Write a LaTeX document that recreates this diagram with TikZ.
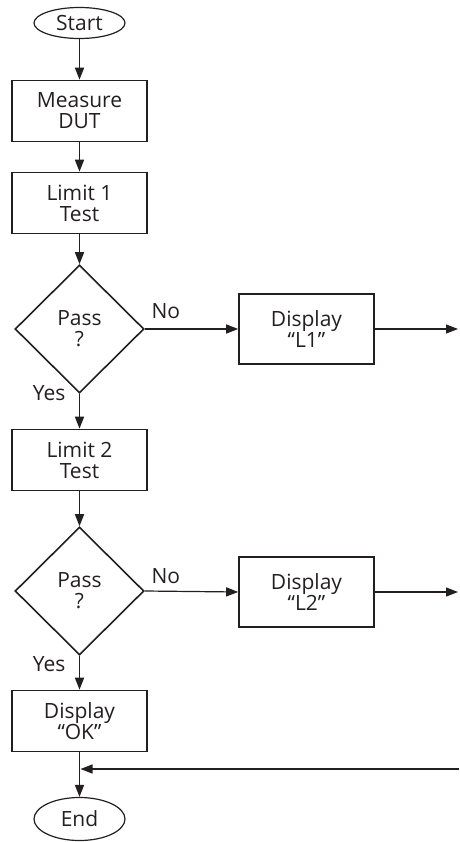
\documentclass[tikz,border=0pt]{standalone}
\usepackage{fontspec}
\setmainfont{Open Sans}
\usetikzlibrary{shapes.geometric,arrows.meta}

\definecolor{flowline}{RGB}{35, 31, 32}

\tikzset{
    flowtext/.style = {
        text          = flowline,
        font          = \fontsize{21}{21}\selectfont
    },
    procbox/.style = {
        flowtext,
        draw          = flowline,
        line width    = 1.6pt,
        minimum width = 135pt,
        minimum height= 61pt,
        inner sep     = 0pt,
        align         = center
    },
    terminal/.style = {
        flowtext,
        ellipse,
        draw          = flowline,
        line width    = 1.2pt,
        minimum width = 91pt,
        minimum height= 31pt,
        inner sep     = 0pt
    },
    decision/.style = {
        flowtext,
        diamond,
        draw          = flowline,
        line width    = 1.6pt,
        minimum width = 129pt,
        minimum height= 128pt,
        inner sep     = 0pt,
        align         = center
    },
    flowarrow/.style = {
        draw          = flowline,
        line width    = 1.6pt,
        -{Triangle[length=12pt, width=9pt]}
    },
    sidearrow/.style = {
        flowarrow,
        line width    = 1.2pt
    }
}

\begin{document}
\begin{tikzpicture}[x=1pt, y=-1pt]
    \useasboundingbox (0,0) rectangle (459,842);

    % main column
    \node[terminal] (start)  at (79.5,23)  {Start};
    \node[procbox]  (measure) at (79.5,111) {Measure\\DUT};
    \node[procbox]  (limit1) at (79.5,203) {Limit 1\\Test};
    \node[decision] (pass1)  at (79.5,329) {Pass\\?};
    \node[procbox]  (limit2) at (79.5,460) {Limit 2\\Test};
    \node[decision] (pass2)  at (79.5,591) {Pass\\?};
    \node[procbox]  (dispok) at (79.5,721) {Display\\“OK”};
    \node[terminal, minimum height=43pt] (end) at (79.5,819) {End};

    % fail branches
    \node[procbox, minimum height=70pt] (displ1) at (306.5,329) {Display\\“L1”};
    \node[procbox, minimum height=70pt] (displ2) at (306.5,592) {Display\\“L2”};

    \coordinate (out1) at (458,329);
    \coordinate (out2) at (458,592);
    \coordinate (back) at (459,769);
    \coordinate (join) at (80.5,769);

    % labels
    \node[flowtext, anchor=base west] (no1)  at (148,318) {No};
    \node[flowtext, anchor=base west] (no2)  at (148,583) {No};
    \node[flowtext, anchor=base east] (yes1) at (69,400)  {Yes};
    \node[flowtext, anchor=base east] (yes2) at (69,671)  {Yes};

    % connectors
    \draw[flowarrow] (start)   -- (measure);
    \draw[flowarrow] (measure) -- (limit1);
    \draw[flowarrow] (limit1)  -- (pass1);
    \draw[flowarrow] (pass1)   -- (limit2);
    \draw[flowarrow] (limit2)  -- (pass2);
    \draw[flowarrow] (pass2)   -- (dispok);
    \draw[flowarrow] (dispok)  -- (end);

    \draw[sidearrow] (pass1.east)  -- (displ1.west);
    \draw[sidearrow] (displ1.east) -- (out1);
    \draw[sidearrow] (pass2.east)  -- (displ2.west);
    \draw[sidearrow] (displ2.east) -- (out2);
    \draw[sidearrow] (back)        -- (join);
\end{tikzpicture}
\end{document}
